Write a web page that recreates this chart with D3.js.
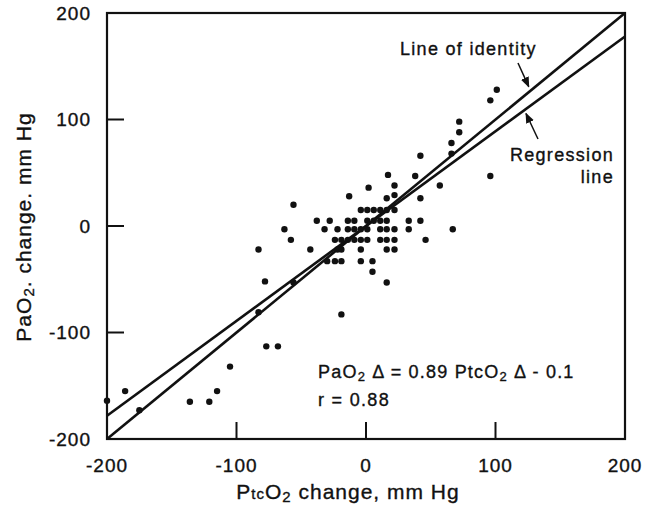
<!DOCTYPE html>
<meta charset='utf-8'>
<style>
body { margin: 0; background: #fff; }
svg text { font-family: 'Liberation Sans', Arial, sans-serif; fill: #111; stroke: #111; stroke-width: 0.35px; }
.frame { fill: none; stroke: #111; stroke-width: 2.2px; }
.tick-mark { stroke: #111; stroke-width: 2px; }
.ref { fill: none; stroke: #111; stroke-width: 2.6px; }
.dot { fill: #111; }
.arrow { stroke: #111; stroke-width: 1.5px; fill: none; }
</style>
<body>
<script src='https://cdn.jsdelivr.net/npm/d3@7'></script>
<script>

// Data

let xTicks = [-200, -100, 0, 100, 200],
	yTicks = [-200, -100, 0, 100, 200]

let ptcChange = [
	101, 96, 72, 72, 66, 66, 42, 96, 17, 38, 57, 22, 2, -13, 22, 16, 42, -56,
	-4, 1, 6, 11, 16, 22,
	-38, -28, -14, -9, 1, 6, 11, 16, 33, 42,
	-63, -32, -22, -14, -9, -4, 1, 11, 16, 22, 33, 67,
	-58, -24, -19, -14, -9, -4, 1, 11, 16, 22, 46,
	-83, -43, -22, -19, -4, 16, 22,
	-30, -24, -19, -4, 5,
	5, 16, -78, -56, -83, -19,
	-105, -77, -68, -186, -200, -175, -136, -121, -115]

let paoChange = [
	128, 118, 98, 88, 78, 68, 66, 47, 48, 47, 38, 38, 36, 28, 29, 26, 26, 20,
	15, 15, 15, 15, 15, 15,
	5, 5, 5, 5, 5, 5, 5, 5, 5, 5,
	-3, -3, -3, -3, -3, -3, -3, -3, -3, -3, -3, -3,
	-13, -13, -13, -13, -13, -13, -13, -13, -13, -13, -13,
	-22, -22, -22, -22, -22, -22, -22,
	-33, -33, -33, -33, -33,
	-43, -53, -52, -53, -81, -83,
	-132, -113, -113, -155, -164, -173, -165, -165, -155]

let slope = 0.89, intercept = -0.1,
	lineRange = [-200, 200]


// Basic d3 boilerplate

let margin = {top: 13, right: 21, bottom: 73, left: 107},
	width = 646 - margin.left - margin.right,
	height = 512 - margin.top - margin.bottom,
	x = d3.scaleLinear().domain([-200, 200]).range([0, width]),
	y = d3.scaleLinear().domain([-200, 200]).range([height, 0])

let svg = d3.select('body').append('svg')
	.attr('width', 646).attr('height', 512)
let vis = svg.append('g')
	.attr('transform', `translate(${margin.left},${margin.top})`)

let attrs = (vals) => (s) => {
	Object.entries(vals).forEach(([k, v]) => s.attr(k, v)) }


// Frame, ticks, labels

vis.append('rect').attr('class', 'frame')
	.call(attrs({x: 0, y: 0, width: width, height: height}))

vis.selectAll('.xt').data(xTicks.filter(d => d > -200 && d < 200)).enter().append('line')
	.attr('class', 'tick-mark')
	.call(attrs({x1: d => x(d), x2: d => x(d), y1: height, y2: height - 17}))
vis.selectAll('.yt').data(yTicks.filter(d => d > -200 && d < 200)).enter().append('line')
	.attr('class', 'tick-mark')
	.call(attrs({x1: 0, x2: 17, y1: d => y(d), y2: d => y(d)}))

let fmt = d => d < 0 ? '-' + Math.abs(d) : d

vis.selectAll('.xl').data(xTicks).enter().append('text')
	.attr('x', d => x(d)).attr('y', height + 33)
	.attr('text-anchor', 'middle').style('font-size', '19px').style('letter-spacing', '1px')
	.text(fmt)
vis.selectAll('.yl').data(yTicks).enter().append('text')
	.attr('x', -16).attr('y', d => y(d)).attr('dy', '0.35em')
	.attr('text-anchor', 'end').style('font-size', '19px').style('letter-spacing', '1px')
	.text(fmt)

// axis titles
svg.append('text')
	.attr('x', 348).attr('y', 499).attr('text-anchor', 'middle')
	.style('font-size', '21px').style('letter-spacing', '1px')
	.call(t => {
		t.append('tspan').text('P')
		t.append('tspan').text('tc').style('font-size', '15px')
		t.append('tspan').text('O')
		t.append('tspan').text('2').style('font-size', '15px').attr('dy', 3)
		t.append('tspan').text(' change, mm Hg').attr('dy', -3) })

svg.append('text')
	.attr('transform', 'translate(31,227) rotate(-90)').attr('text-anchor', 'middle')
	.style('font-size', '21px').style('letter-spacing', '1px')
	.call(t => {
		t.append('tspan').text('PaO')
		t.append('tspan').text('2').style('font-size', '15px').attr('dy', 3)
		t.append('tspan').text('. change. mm Hg').attr('dy', -3) })


// Identity and regression lines

let identity = d3.line().x(d => x(d)).y(d => y(d)),
	regression = d3.line().x(d => x(d)).y(d => y(slope * d + intercept))

vis.append('path').attr('class', 'ref').attr('d', identity(lineRange))
vis.append('path').attr('class', 'ref').attr('d', regression(lineRange))


// Points

vis.selectAll('.dot').data(ptcChange.map((v, i) => [v, paoChange[i]]))
	.enter().append('circle').attr('class', 'dot')
	.attr('cx', d => x(d[0])).attr('cy', d => y(d[1])).attr('r', 3.2)


// Annotations

svg.append('defs').append('marker')
	.attr('id', 'head').attr('viewBox', '0 0 10 10')
	.attr('refX', 9).attr('refY', 5)
	.attr('markerWidth', 7).attr('markerHeight', 7).attr('orient', 'auto')
	.append('path').attr('d', 'M0,1 L10,5 L0,9 Z').attr('fill', '#111')

let note = (tx, ty, text, anchor) => svg.append('text')
	.attr('x', tx).attr('y', ty).attr('text-anchor', anchor || 'start')
	.style('font-size', '18px').style('letter-spacing', '1.3px').text(text)

note(400, 55, 'Line of identity')
note(614, 161, 'Regression', 'end')
note(614, 183, 'line', 'end')

// arrows point at the lines they label
let idX = 128, regX = 122
svg.append('line').attr('class', 'arrow').attr('marker-end', 'url(#head)')
	.call(attrs({x1: 518, y1: 63, x2: margin.left + x(idX) - 3, y2: margin.top + y(idX) - 3}))
svg.append('line').attr('class', 'arrow').attr('marker-end', 'url(#head)')
	.call(attrs({x1: 538, y1: 139, x2: margin.left + x(regX) + 2,
		y2: margin.top + y(slope * regX + intercept) + 3}))

svg.append('text')
	.attr('x', 318).attr('y', 378).style('font-size', '18px').style('letter-spacing', '1.2px')
	.call(t => {
		t.append('tspan').text('PaO')
		t.append('tspan').text('2').style('font-size', '13px').attr('dy', 3)
		t.append('tspan').text(' \u0394 = 0.89 PtcO').attr('dy', -3)
		t.append('tspan').text('2').style('font-size', '13px').attr('dy', 3)
		t.append('tspan').text(' \u0394 - 0.1').attr('dy', -3) })
note(318, 406, 'r = 0.88')

</script>
</body>
